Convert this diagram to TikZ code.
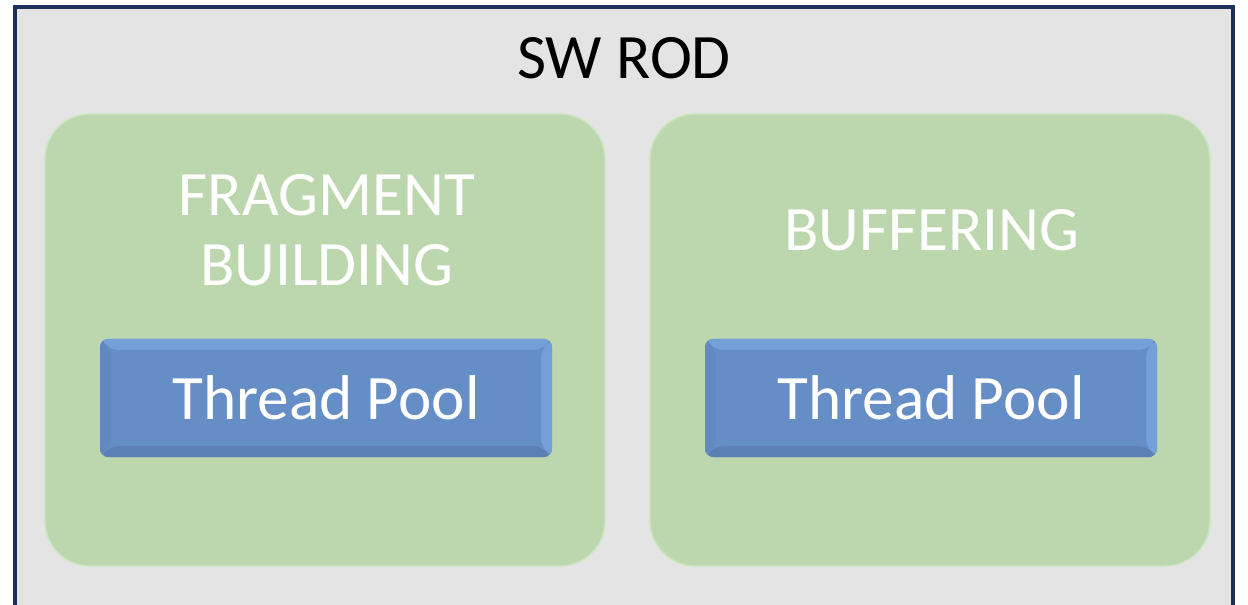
\documentclass[tikz,border=0pt]{standalone}
\usepackage{fontspec}
\setmainfont{Carlito}
\usetikzlibrary{positioning}

\definecolor{rodgray}{HTML}{E4E4E4}
\definecolor{rodline}{HTML}{1C3058}
\definecolor{stagegreen}{HTML}{BCD7AE}
\definecolor{stageedge}{HTML}{CBE6BC}
\definecolor{poolblue}{HTML}{668EC6}
\definecolor{poolhi}{HTML}{74A0DA}
\definecolor{poollo}{HTML}{5C80B4}
\definecolor{poolside}{HTML}{6189BF}

\tikzset{
  rodbox/.style={draw=rodline, line width=2.2pt, fill=rodgray},
  stage/.style={draw=stageedge, line width=0.8pt, fill=stagegreen,
    rounded corners=0.9cm, minimum width=11.2cm, minimum height=9.04cm},
  stagetext/.style={text=white, align=center,
    font=\fontsize{36}{40}\selectfont},
  pool/.style={fill=poolblue, rounded corners=0.16cm,
    minimum width=9.04cm, minimum height=2.36cm,
    text=white, font=\fontsize{36}{40}\selectfont,
    path picture={
      \fill[poolhi] (path picture bounding box.north west) -- (path picture bounding box.north east)
        -- ([shift={(-0.22,-0.22)}]path picture bounding box.north east) -- ([shift={(0.22,-0.22)}]path picture bounding box.north west) -- cycle;
      \fill[poolhi] (path picture bounding box.north east) -- (path picture bounding box.south east)
        -- ([shift={(-0.22,0.22)}]path picture bounding box.south east) -- ([shift={(-0.22,-0.22)}]path picture bounding box.north east) -- cycle;
      \fill[poollo] (path picture bounding box.south west) -- (path picture bounding box.south east)
        -- ([shift={(-0.22,0.22)}]path picture bounding box.south east) -- ([shift={(0.22,0.22)}]path picture bounding box.south west) -- cycle;
      \fill[poolside] (path picture bounding box.north west) -- (path picture bounding box.south west)
        -- ([shift={(0.22,0.22)}]path picture bounding box.south west) -- ([shift={(0.22,-0.22)}]path picture bounding box.north west) -- cycle;
      \fill[poolblue] ([shift={(0.22,-0.22)}]path picture bounding box.north west) rectangle ([shift={(-0.22,0.22)}]path picture bounding box.south east);
    }}
}

\begin{document}
\begin{tikzpicture}
    \useasboundingbox (0,0) rectangle (24.96,-12.1);

    % SW ROD frame
    \draw[rodbox] (0.3,-0.14) rectangle (24.66,-12.5);
    \node[font=\fontsize{36}{40}\selectfont] (rod) at (12.48,-1.16) {SW ROD};

    % the two stages
    \node[stage] (fragstage) at (6.5,-6.8) {};
    \node[stage] (bufstage) at (18.6,-6.8) {};

    \node[stagetext] (fraglabel) at (6.54,-4.6) {FRAGMENT\\BUILDING};
    \node[stagetext] (buflabel) at (18.64,-4.6) {BUFFERING};

    % thread pools
    \node[pool] (fragpool) at (6.52,-7.96) {Thread Pool};
    \node[pool] (bufpool) at (18.62,-7.96) {Thread Pool};
\end{tikzpicture}
\end{document}
